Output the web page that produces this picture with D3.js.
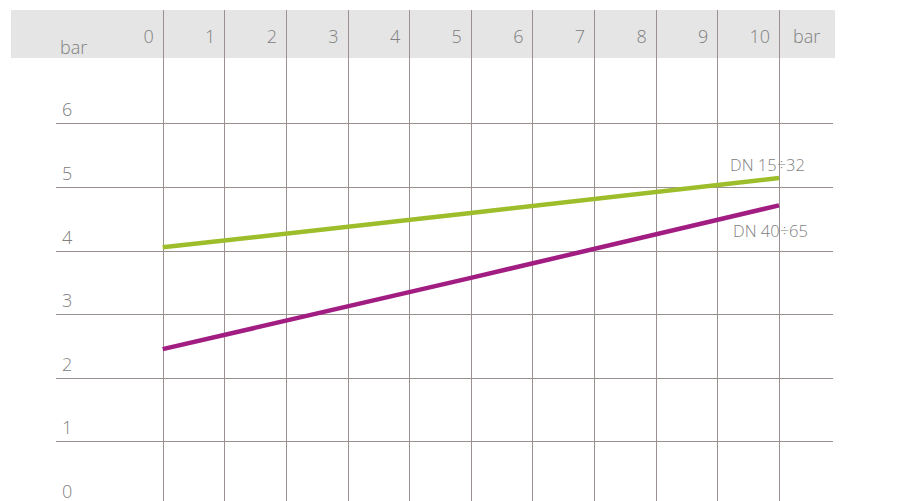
<!DOCTYPE html>
<html>
<head>
<meta charset="utf-8">
<script src="https://cdn.jsdelivr.net/npm/d3@7"></script>
<style>
  body { margin: 0; background: #fff; }
  svg { display: block; }
  text { font-family: "Open Sans", Lato, sans-serif; font-weight: 300; fill: #808080; }
</style>
</head>
<body>
<svg width="912" height="501"></svg>
<script>
// portata (asse x) e pressione (asse y), bar
var xTicks = [0, 1, 2, 3, 4, 5, 6, 7, 8, 9, 10];
var yTicks = [0, 1, 2, 3, 4, 5, 6];
var flowPts = [0, 5, 10];
var dn15 = [4.05, 4.59, 5.14];
var dn40 = [2.45, 3.57, 4.71];
var seriesNames = ["DN 15÷32", "DN 40÷65"];

var svg = d3.select("svg");

var x = d3.scaleLinear().domain([0, 10]).range([162.7, 779]);
var y = d3.scaleLinear().domain([0, 6]).range([505, 123.3]);

// fascia grigia in alto
svg.append("rect")
  .attr("x", 11).attr("y", 10)
  .attr("width", 824).attr("height", 48)
  .attr("fill", "#e5e5e5");

// griglia orizzontale
svg.selectAll(".hLine")
  .data(yTicks.filter(d => d > 0))
  .enter()
  .append("line")
  .attr("x1", 56).attr("x2", 833)
  .attr("y1", d => Math.round(y(d)) + 0.5)
  .attr("y2", d => Math.round(y(d)) + 0.5)
  .attr("stroke", "#9a9090")
  .attr("stroke-width", 1);

// griglia verticale
svg.selectAll(".vLine")
  .data(xTicks)
  .enter()
  .append("line")
  .attr("x1", d => Math.round(x(d)) + 0.5)
  .attr("x2", d => Math.round(x(d)) + 0.5)
  .attr("y1", 10).attr("y2", 501)
  .attr("stroke", "#9a9090")
  .attr("stroke-width", 1);

// etichette asse x (in alto)
svg.selectAll(".xLab")
  .data(xTicks)
  .enter()
  .append("text")
  .text(d => d)
  .attr("x", d => x(d) - 9)
  .attr("y", 43)
  .attr("text-anchor", "end")
  .attr("font-size", 18);

svg.append("text").text("bar")
  .attr("x", 793).attr("y", 43)
  .attr("font-size", 18);

svg.append("text").text("bar")
  .attr("x", 60).attr("y", 54)
  .attr("font-size", 18);

// etichette asse y
svg.selectAll(".yLab")
  .data(yTicks)
  .enter()
  .append("text")
  .text(d => d)
  .attr("x", 62)
  .attr("y", d => y(d) - 7)
  .attr("font-size", 18);

// curve
var line = d3.line()
  .x((d, i) => x(flowPts[i]))
  .y(d => y(d));

svg.append("path")
  .datum(dn15)
  .attr("d", line)
  .attr("fill", "none")
  .attr("stroke", "#9dbd2b")
  .attr("stroke-width", 4.5);

svg.append("path")
  .datum(dn40)
  .attr("d", line)
  .attr("fill", "none")
  .attr("stroke", "#a11d82")
  .attr("stroke-width", 4.5);

// nomi delle serie
svg.append("text").text(seriesNames[0])
  .attr("x", 730).attr("y", 171)
  .attr("font-size", 16.5);

svg.append("text").text(seriesNames[1])
  .attr("x", 733).attr("y", 237)
  .attr("font-size", 16.5);
</script>
</body>
</html>
